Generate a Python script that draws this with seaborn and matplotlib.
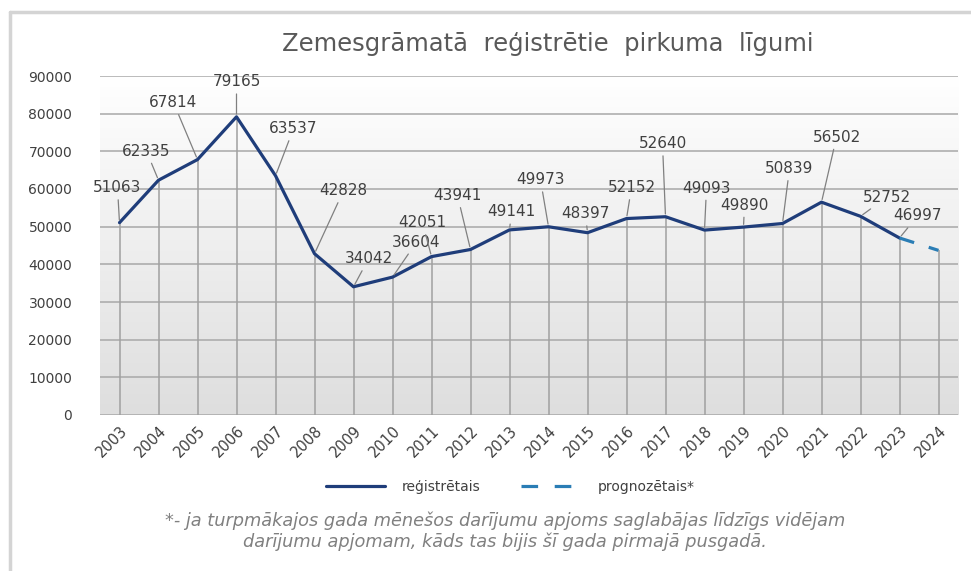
import numpy as np
import pandas as pd
import matplotlib
matplotlib.use("Agg")
import matplotlib.pyplot as plt
from matplotlib.lines import Line2D
from matplotlib.colors import LinearSegmentedColormap
import seaborn as sns

# ---- data ----
years = [2003, 2004, 2005, 2006, 2007, 2008, 2009, 2010, 2011, 2012, 2013,
         2014, 2015, 2016, 2017, 2018, 2019, 2020, 2021, 2022, 2023]
registered = [51063, 62335, 67814, 79165, 63537, 42828, 34042, 36604, 42051,
              43941, 49141, 49973, 48397, 52152, 52640, 49093, 49890, 50839,
              56502, 52752, 46997]
forecast_years = [2023, 2024]
forecast = [46997, 43700]
all_years = years + [2024]
yticks = [0, 10000, 20000, 30000, 40000, 50000, 60000, 70000, 80000, 90000]

title = "Zemesgrāmatā  reģistrētie  pirkuma  līgumi"
legend_labels = ["reģistrētais", "prognozētais*"]
footnote = ("*- ja turpmākajos gada mēnešos darījumu apjoms saglabājas līdzīgs vidējam\n"
            "darījumu apjomam, kāds tas bijis šī gada pirmajā pusgadā.")

# label offsets (pixels) for data labels
label_offsets = [(-2, 35), (-12, 29), (-24, 57), (0, 35), (18, 47), (29, 63),
                 (15, 28), (24, 35), (-9, 34), (-13, 54), (2, 18), (-8, 47),
                 (-2, 19), (5, 31), (-3, 73), (2, 42), (1, 22), (7, 55),
                 (15, 65), (26, 19), (18, 22)]

df_reg = pd.DataFrame({"year": years, "value": registered})
df_fc = pd.DataFrame({"year": forecast_years, "value": forecast})

sns.set_theme(style="white")
plt.rcParams["font.family"] = ["DejaVu Sans"]

fig = plt.figure(figsize=(9.71, 5.71), dpi=100)
ax = fig.add_axes([100 / 971, 1 - 415 / 571, 858 / 971, (415 - 76) / 571])

# gradient background
grad = np.linspace(0, 1, 256).reshape(-1, 1)
cmap = LinearSegmentedColormap.from_list("bg", ["#dedede", "#ffffff"])
ax.imshow(grad, extent=(0, 1, 0, 1), transform=ax.transAxes, aspect="auto",
          cmap=cmap, origin="lower", zorder=0)

ax.set_xlim(2002.5, 2024.5)
ax.set_ylim(0, 90000)

# horizontal gridlines
for yv in yticks:
    ax.axhline(yv, color="#a8a8a8", lw=1.1, zorder=1)

# drop lines
all_vals = registered + [forecast[-1]]
ax.vlines(all_years, 0, all_vals, color="#a0a0a0", lw=1.1, zorder=1)

sns.lineplot(data=df_reg, x="year", y="value", ax=ax, color="#1f3d7a",
             lw=2.3, zorder=4, legend=False)
sns.lineplot(data=df_fc, x="year", y="value", ax=ax, color="#2a7db5",
             lw=2.3, zorder=4, legend=False)
ax.lines[-1].set_dashes([4.8, 4.8])

# data labels with leader lines
for yr, v, (dx, dy) in zip(years, registered, label_offsets):
    ax.annotate(f"{v}", xy=(yr, v), xytext=(dx, dy), textcoords="offset pixels",
                ha="center", va="center", fontsize=11, color="#404040",
                zorder=5,
                arrowprops=dict(arrowstyle="-", color="#808080", lw=0.9,
                                shrinkA=1, shrinkB=2))

ax.set_xticks(all_years)
ax.set_xticklabels([str(y) for y in all_years], rotation=45, ha="right",
                   rotation_mode="anchor", fontsize=10.5, color="#404040")
ax.set_yticks(yticks)
ax.set_yticklabels([str(y) for y in yticks], fontsize=10, color="#404040")
ax.tick_params(axis="both", length=0)
ax.tick_params(axis="y", pad=20)
ax.tick_params(axis="x", pad=6)
ax.set_xlabel("")
ax.set_ylabel("")
for s in ax.spines.values():
    s.set_visible(False)

fig.text(548 / 971, 1 - 44 / 571, title, ha="center", va="center",
         fontsize=17.5, color="#595959")

handles = [Line2D([0], [0], color="#1f3d7a", lw=2.3),
           Line2D([0], [0], color="#2a7db5", lw=2.3, dashes=[5.2, 5.2])]
fig.legend(handles, legend_labels, loc="center",
           bbox_to_anchor=(510 / 971, 1 - 487 / 571), ncol=2, frameon=False,
           fontsize=10, handlelength=4.3, handletextpad=1.2,
           columnspacing=2.9, labelcolor="#404040")

fig.text(505 / 971, 1 - 531 / 571, footnote, ha="center", va="center",
         fontsize=12.8, style="italic", color="#808080", linespacing=1.15)

# outer frame lines (top and left)
fig.add_artist(Line2D([10 / 971, 1], [1 - 12 / 571, 1 - 12 / 571],
                      color="#d4d4d4", lw=2.5, transform=fig.transFigure))
fig.add_artist(Line2D([10 / 971, 10 / 971], [0, 1 - 12 / 571],
                      color="#d4d4d4", lw=2.5, transform=fig.transFigure))

fig.savefig("out.png", dpi=100)
